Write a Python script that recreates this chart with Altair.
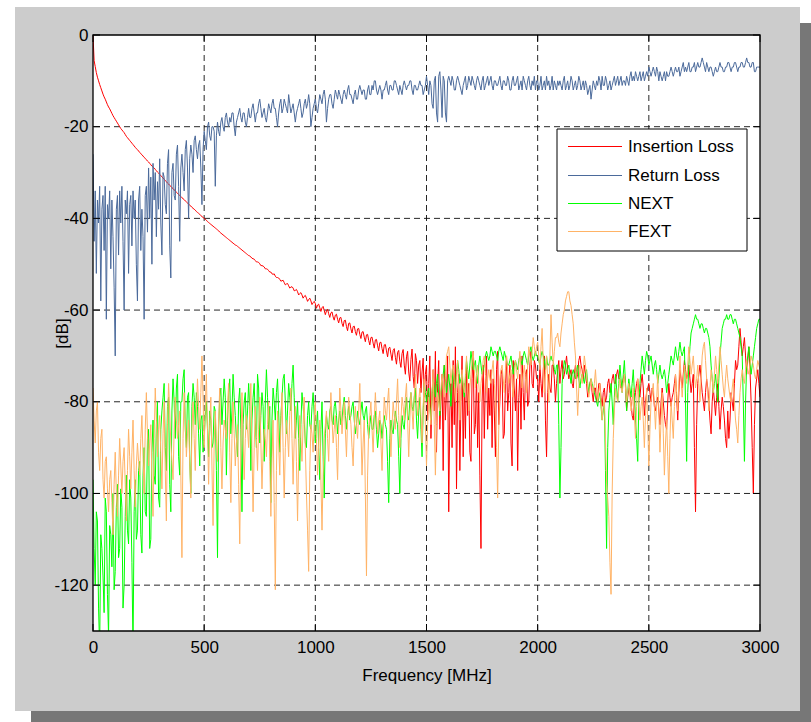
import altair as alt
import pandas as pd

# Cable channel measurement: four traces, one point every FREQ_STEP MHz from 0 to 3000
FREQ_STEP = 5

SERIES = ["Insertion Loss", "Return Loss", "NEXT", "FEXT"]
COLORS = ["#ff0000", "#4b6a9b", "#00ff00", "#ffb366"]

X_TICKS = [0, 500, 1000, 1500, 2000, 2500, 3000]
Y_TICKS = [0, -20, -40, -60, -80, -100, -120]

INSERTION_LOSS = [
    0, -5.6, -6.9, -8.2, -9.2, -10.0, -10.8, -11.5, -12.2, -12.9,
    -13.5, -14.0, -14.6, -15.2, -15.7, -16.1, -16.6, -17.1, -17.6, -18.0,
    -18.4, -18.8, -19.2, -19.6, -20.0, -20.4, -20.7, -21.0, -21.3, -21.7,
    -22.1, -22.4, -22.7, -23.0, -23.3, -23.6, -23.9, -24.2, -24.5, -24.8,
    -25.0, -25.3, -25.6, -25.9, -26.1, -26.4, -26.7, -26.9, -27.2, -27.5,
    -27.7, -28.0, -28.3, -28.6, -28.8, -29.0, -29.3, -29.6, -29.9, -30.1,
    -30.4, -30.7, -30.9, -31.2, -31.5, -31.7, -32.0, -32.3, -32.5, -32.8,
    -33.0, -33.3, -33.5, -33.8, -34.0, -34.3, -34.5, -34.8, -35.0, -35.2,
    -35.5, -35.7, -35.9, -36.2, -36.4, -36.6, -36.9, -37.1, -37.3, -37.6,
    -37.8, -38.0, -38.2, -38.5, -38.7, -38.9, -39.1, -39.4, -39.6, -39.8,
    -40.0, -40.2, -40.4, -40.7, -40.9, -41.1, -41.3, -41.5, -41.7, -41.9,
    -42.1, -42.3, -42.5, -42.7, -43.0, -43.2, -43.4, -43.6, -43.8, -44.0,
    -44.2, -44.4, -44.6, -44.8, -45.0, -45.2, -45.4, -45.6, -45.8, -45.9,
    -46.1, -46.3, -46.5, -46.7, -46.9, -47.1, -47.3, -47.5, -47.7, -47.9,
    -48.1, -48.2, -48.4, -48.7, -48.8, -48.9, -49.2, -49.5, -49.5, -49.6,
    -49.9, -50.3, -50.3, -50.4, -50.6, -51.0, -51.0, -51.1, -51.4, -51.7,
    -51.7, -52.1, -52.2, -52.1, -52.6, -52.9, -52.9, -53.0, -53.3, -53.7,
    -53.6, -53.5, -54.0, -54.5, -54.3, -54.2, -54.7, -55.2, -55.0, -54.9,
    -55.2, -55.8, -55.7, -55.5, -56.0, -56.7, -56.4, -56.2, -56.7, -57.4,
    -57.0, -56.8, -57.4, -58.1, -57.7, -57.4, -58.0, -58.8, -58.4, -58.1,
    -58.6, -59.6, -58.9, -58.7, -59.5, -60.3, -59.5, -59.2, -60.1, -61.0,
    -60.2, -59.8, -60.8, -61.6, -60.6, -60.4, -61.5, -62.2, -61.1, -60.9,
    -62.0, -62.8, -61.7, -61.6, -62.9, -63.6, -62.3, -62.2, -63.6, -64.5,
    -62.9, -62.8, -64.1, -65.0, -63.6, -63.5, -64.7, -65.5, -64.1, -64.0,
    -65.3, -66.2, -64.8, -64.7, -65.9, -66.9, -65.4, -65.3, -66.6, -67.6,
    -66.0, -65.9, -67.2, -68.3, -66.5, -66.4, -67.8, -68.9, -67.1, -67.0,
    -68.4, -69.5, -67.6, -67.5, -68.9, -70.2, -68.3, -68.1, -69.6, -71.0,
    -68.8, -68.4, -70.3, -71.8, -69.2, -68.8, -71.2, -72.5, -69.5, -68.6,
    -72.0, -74.0, -70.2, -69.0, -73.5, -75.5, -70.8, -68.5, -74.5, -77.0,
    -69.5, -71.0, -76.0, -72.0, -71.0, -78.0, -73.5, -70.5, -79.0, -74.0,
    -72, -84, -76, -70, -88, -79, -73, -82, -69, -91,
    -76, -71, -86, -80, -74, -95, -72, -84, -78, -70,
    -104, -82, -76, -90, -71, -85, -68, -99, -78, -74,
    -95, -80, -70, -92, -76, -88, -72, -83, -76, -91,
    -93, -75, -69, -87, -85, -74, -90, -78, -96, -112,
    -80, -72, -88, -75, -70, -86, -77, -83, -73, -90,
    -75, -82, -92, -73, -69, -85, -80, -74, -73, -88,
    -87, -76, -70, -82, -78, -72, -89, -94, -71, -77,
    -82, -75, -95, -79, -74, -86, -70, -78, -84, -74,
    -73, -81, -80, -72, -69, -76, -77, -71, -72, -75,
    -75, -80, -72, -76, -79, -73, -70, -84, -92, -78,
    -74, -77, -78, -72, -72, -75, -80, -76, -73, -71,
    -76, -73, -71, -75, -74, -72, -70, -73, -75, -74,
    -73, -76, -77, -74, -72, -75, -74, -71, -70, -72,
    -73, -75, -72, -74, -76, -79, -78, -76, -75, -78,
    -80, -77, -77, -80, -79, -76, -76, -79, -81, -78,
    -77, -80, -79, -76, -75, -78, -77, -75, -74, -76,
    -76, -74, -73, -75, -75, -77, -76, -75, -74, -76,
    -82, -79, -77, -78, -80, -83, -84, -80, -78, -76,
    -75, -78, -79, -76, -74, -77, -83, -80, -78, -77,
    -76, -78, -80, -77, -78, -81, -82, -80, -79, -82,
    -85, -80, -77, -80, -83, -85, -86, -80, -76, -79,
    -81, -79, -78, -76, -74, -79, -84, -78, -73, -75,
    -77, -74, -71, -73, -75, -74, -72, -75, -78, -76,
    -74, -90, -104, -85, -76, -74, -72, -75, -78, -80,
    -82, -78, -75, -77, -80, -84, -87, -80, -77, -80,
    -83, -79, -76, -81, -86, -82, -79, -81, -84, -88,
    -90, -82, -88, -84, -78, -80, -82, -76, -71, -73,
    -72, -68, -64, -67, -70, -68, -66, -70, -74, -71,
    -68, -73, -80, -90, -100, -85, -77, -75, -73, -76,
    -79,
]

RETURN_LOSS = [
    -26, -45, -34, -52, -36, -41, -33, -58, -38, -35,
    -47, -33, -62, -37, -40, -34, -51, -36, -44, -55,
    -70, -38, -35, -48, -34, -41, -33, -45, -60, -36,
    -39, -34, -52, -37, -35, -46, -34, -40, -36, -50,
    -58, -36, -33, -47, -38, -44, -62, -35, -33, -43,
    -29, -40, -31, -50, -28, -36, -30, -44, -32, -38,
    -27, -41, -48, -30, -31, -37, -39, -28, -25, -46,
    -53, -30, -28, -35, -36, -26, -24, -33, -45, -29,
    -26, -30, -34, -25, -23, -29, -40, -27, -24, -26,
    -30, -23, -22, -25, -27, -24, -23, -29, -37, -25,
    -21, -23, -25, -20, -19, -22, -23, -20, -20, -21,
    -33, -22, -19, -21, -22, -19, -18, -20, -21, -18,
    -17, -19, -20, -18, -19, -17, -17, -20, -22, -19,
    -18, -17, -16, -18, -19, -17, -17, -19, -20, -18,
    -16, -18, -18, -16, -15, -17, -19, -17, -17, -15,
    -14, -16, -18, -17, -16, -18, -19, -17, -15, -16,
    -17, -15, -14, -16, -16, -18, -20, -17, -15, -14,
    -17, -16, -14, -15, -16, -17, -13, -15, -17, -16,
    -15, -17, -19, -17, -16, -15, -14, -16, -18, -17,
    -15, -14, -16, -15, -13, -15, -20, -18, -16, -15,
    -14, -16, -17, -15, -13, -14, -15, -13, -12, -14,
    -19, -16, -14, -13, -13, -15, -16, -14, -12, -13,
    -14, -12, -13, -14, -15, -13, -12, -13, -14, -12,
    -11, -13, -13, -14, -15, -13, -12, -14, -14, -12,
    -11, -12, -13, -12, -12, -14, -14, -12, -11, -13,
    -13, -11, -12, -10, -10, -12, -13, -12, -11, -12,
    -14, -12, -12, -11, -10, -12, -13, -11, -11, -12,
    -12, -10, -10, -11, -12, -13, -11, -12, -13, -11,
    -10, -11, -12, -11, -11, -10, -10, -12, -13, -11,
    -11, -12, -12, -11, -10, -11, -11, -13, -12, -11,
    -9, -11, -13, -10, -11, -15, -16, -10, -9, -17,
    -19, -9, -8, -12, -18, -9, -10, -17, -19, -10,
    -9, -10, -11, -9, -10, -12, -12, -10, -9, -10,
    -11, -12, -13, -11, -10, -9, -12, -11, -9, -10,
    -11, -9, -10, -11, -12, -10, -9, -10, -11, -12,
    -10, -9, -12, -11, -10, -9, -11, -10, -9, -11,
    -12, -10, -10, -11, -11, -10, -9, -11, -12, -10,
    -10, -11, -11, -9, -10, -12, -12, -10, -9, -11,
    -11, -10, -9, -12, -11, -10, -12, -9, -10, -11,
    -12, -10, -9, -11, -12, -10, -11, -9, -12, -10,
    -10, -12, -11, -9, -12, -11, -10, -12, -9, -11,
    -10, -12, -11, -9, -12, -10, -11, -12, -10, -11,
    -10, -11, -12, -10, -9, -12, -11, -10, -12, -11,
    -9, -10, -12, -11, -10, -12, -11, -9, -10, -12,
    -11, -10, -12, -10, -11, -13, -12, -11, -14, -12,
    -10, -11, -12, -10, -11, -9, -10, -12, -9, -11,
    -11, -9, -10, -12, -11, -10, -12, -11, -10, -9,
    -11, -10, -9, -11, -10, -9, -11, -10, -10, -11,
    -9, -10, -11, -9, -8, -10, -9, -10, -8, -9,
    -10, -9, -8, -10, -9, -8, -10, -9, -8, -9,
    -7, -8, -9, -8, -7, -8, -9, -7, -8, -10,
    -8, -9, -10, -9, -8, -10, -8, -9, -9, -8,
    -7, -8, -9, -8, -7, -8, -8, -7, -9, -8,
    -7, -6, -8, -7, -8, -7, -6, -8, -8, -7,
    -7, -6, -8, -7, -6, -7, -7, -6, -5, -6,
    -7, -8, -6, -7, -8, -7, -7, -8, -9, -8,
    -7, -8, -8, -7, -6, -7, -7, -8, -8, -7,
    -7, -6, -6, -7, -8, -7, -7, -6, -6, -7,
    -8, -7, -7, -6, -6, -7, -7, -6, -5, -6,
    -6, -7, -7, -6, -6, -8, -8, -7, -7, -7,
    -7,
]

NEXT = [
    -97, -112, -120, -104, -106, -125, -134, -109, -112, -118,
    -126, -101, -104, -122, -131, -107, -109, -116, -100, -121,
    -117, -103, -98, -114, -112, -99, -103, -125, -120, -105,
    -96, -108, -111, -97, -101, -115, -134, -104, -97, -110,
    -108, -95, -93, -109, -113, -96, -90, -104, -105, -88,
    -86, -112, -110, -91, -84, -96, -98, -85, -80, -101,
    -103, -86, -82, -79, -76, -90, -95, -81, -79, -98,
    -104, -82, -75, -80, -88, -77, -74, -92, -96, -80,
    -80, -75, -73, -86, -90, -79, -78, -93, -100, -81,
    -76, -79, -85, -78, -81, -87, -94, -84, -83, -91,
    -88, -83, -80, -86, -92, -82, -84, -90, -89, -81,
    -82, -95, -114, -86, -79, -77, -85, -80, -75, -79,
    -96, -84, -78, -75, -87, -82, -74, -79, -83, -88,
    -92, -80, -77, -86, -104, -85, -80, -78, -86, -82,
    -76, -81, -95, -84, -79, -76, -84, -90, -74, -77,
    -89, -83, -78, -81, -93, -80, -73, -79, -86, -81,
    -102, -84, -77, -80, -84, -78, -75, -82, -91, -83,
    -79, -75, -74, -80, -87, -82, -76, -79, -82, -76,
    -72, -79, -88, -84, -80, -88, -95, -85, -78, -81,
    -84, -89, -90, -83, -80, -85, -86, -81, -78, -83,
    -89, -85, -82, -90, -97, -86, -80, -92, -101, -87,
    -83, -85, -86, -82, -81, -84, -85, -81, -80, -83,
    -87, -84, -82, -85, -84, -81, -79, -83, -86, -83,
    -81, -84, -83, -81, -80, -84, -87, -85, -82, -84,
    -85, -82, -80, -83, -84, -82, -81, -85, -88, -85,
    -83, -86, -86, -83, -82, -86, -90, -87, -84, -85,
    -88, -85, -83, -85, -86, -93, -102, -88, -84, -86,
    -87, -84, -82, -84, -85, -92, -100, -88, -83, -85,
    -86, -82, -79, -83, -84, -80, -78, -81, -82, -79,
    -77, -84, -88, -82, -79, -86, -92, -82, -76, -78,
    -80, -78, -77, -81, -84, -78, -75, -77, -79, -76,
    -74, -79, -83, -78, -76, -74, -72, -75, -78, -76,
    -74, -77, -81, -76, -73, -75, -77, -74, -71, -73,
    -76, -75, -74, -77, -79, -75, -71, -73, -75, -72,
    -69, -71, -73, -72, -71, -74, -76, -72, -70, -72,
    -74, -73, -72, -70, -69, -70, -71, -70, -68, -69,
    -70, -69, -69, -70, -71, -69, -68, -69, -70, -71,
    -69, -70, -71, -72, -72, -71, -70, -72, -74, -72,
    -71, -72, -73, -71, -70, -71, -72, -70, -69, -70,
    -71, -72, -70, -69, -68, -70, -71, -70, -69, -70,
    -70, -71, -72, -70, -69, -70, -71, -73, -70, -72,
    -72, -71, -70, -71, -71, -73, -74, -72, -72, -85,
    -101, -90, -76, -73, -71, -72, -74, -73, -72, -74,
    -76, -74, -73, -74, -75, -73, -72, -75, -77, -75,
    -74, -75, -76, -74, -73, -76, -78, -76, -75, -76,
    -77, -78, -79, -80, -81, -79, -78, -81, -84, -82,
    -80, -95, -112, -90, -82, -79, -76, -80, -85, -79,
    -74, -77, -80, -76, -72, -75, -78, -74, -71, -76,
    -82, -78, -75, -77, -79, -76, -73, -78, -84, -88,
    -93, -80, -76, -73, -70, -72, -74, -71, -69, -70,
    -72, -71, -70, -72, -74, -72, -71, -73, -76, -74,
    -72, -74, -75, -74, -73, -75, -78, -76, -74, -72,
    -70, -71, -72, -70, -68, -70, -71, -69, -67, -69,
    -70, -69, -68, -80, -93, -78, -72, -68, -65, -64,
    -63, -62, -61, -62, -62, -63, -64, -63, -63, -64,
    -65, -64, -64, -65, -66, -68, -72, -75, -78, -76,
    -74, -77, -80, -75, -70, -67, -64, -63, -62, -62,
    -61, -62, -62, -61, -61, -62, -63, -62, -62, -63,
    -64, -65, -66, -68, -70, -80, -93, -80, -72, -70,
    -68, -71, -74, -72, -70, -68, -66, -64, -63, -62,
    -62,
]

FEXT = [
    -77, -84, -89, -82, -80, -91, -95, -88, -86, -97,
    -101, -93, -92, -99, -104, -97, -95, -102, -109, -98,
    -91, -100, -105, -96, -88, -94, -100, -93, -90, -98,
    -106, -95, -86, -92, -99, -91, -84, -95, -103, -94,
    -89, -93, -96, -88, -83, -92, -100, -86, -78, -87,
    -94, -89, -85, -97, -105, -88, -77, -84, -92, -86,
    -83, -91, -99, -87, -80, -95, -106, -85, -76, -82,
    -89, -93, -97, -86, -79, -84, -88, -85, -82, -96,
    -114, -88, -78, -84, -92, -87, -84, -93, -101, -86,
    -80, -88, -95, -82, -75, -81, -86, -78, -70, -79,
    -90, -81, -74, -86, -98, -85, -79, -94, -107, -89,
    -82, -88, -93, -84, -77, -90, -99, -89, -84, -86,
    -88, -81, -76, -91, -102, -88, -80, -87, -94, -89,
    -85, -98, -111, -90, -78, -88, -97, -88, -83, -86,
    -90, -82, -76, -90, -104, -90, -81, -88, -95, -86,
    -79, -89, -99, -91, -86, -88, -92, -85, -80, -93,
    -105, -92, -84, -102, -121, -95, -82, -89, -96, -85,
    -78, -90, -101, -90, -84, -87, -92, -83, -77, -88,
    -98, -88, -81, -93, -106, -92, -83, -88, -93, -85,
    -79, -90, -100, -108, -117, -95, -85, -87, -91, -84,
    -80, -88, -96, -89, -84, -97, -108, -96, -88, -85,
    -82, -88, -93, -84, -78, -84, -89, -86, -83, -90,
    -97, -86, -77, -82, -87, -83, -80, -86, -92, -84,
    -79, -82, -85, -90, -94, -86, -81, -85, -88, -82,
    -76, -86, -96, -89, -84, -100, -118, -96, -86, -83,
    -80, -86, -91, -84, -78, -83, -87, -84, -82, -89,
    -95, -86, -79, -82, -84, -80, -77, -85, -92, -85,
    -80, -83, -86, -80, -75, -83, -90, -84, -79, -81,
    -84, -79, -76, -84, -92, -84, -78, -82, -86, -79,
    -74, -79, -83, -80, -77, -83, -89, -81, -75, -85,
    -94, -85, -79, -82, -85, -78, -73, -85, -96, -85,
    -78, -80, -82, -77, -74, -77, -79, -74, -70, -69,
    -68, -72, -76, -73, -72, -76, -80, -75, -71, -78,
    -84, -77, -73, -76, -78, -74, -70, -76, -82, -77,
    -74, -71, -69, -73, -77, -74, -72, -76, -80, -76,
    -74, -71, -70, -74, -78, -75, -73, -75, -76, -73,
    -71, -76, -80, -90, -101, -86, -75, -73, -72, -75,
    -78, -73, -70, -73, -76, -74, -73, -76, -79, -75,
    -71, -73, -75, -72, -69, -73, -77, -74, -72, -75,
    -78, -72, -68, -70, -72, -69, -66, -68, -70, -68,
    -67, -70, -73, -68, -64, -71, -78, -74, -70, -75,
    -80, -70, -61, -67, -72, -69, -66, -66, -65, -67,
    -68, -65, -63, -61, -60, -58, -57, -56, -56, -58,
    -59, -61, -63, -67, -70, -77, -83, -77, -72, -74,
    -76, -73, -70, -72, -74, -77, -79, -77, -75, -77,
    -78, -76, -73, -77, -80, -78, -76, -80, -84, -81,
    -79, -88, -98, -101, -105, -115, -122, -100, -88, -82,
    -77, -79, -80, -77, -75, -77, -78, -76, -74, -77,
    -80, -78, -76, -79, -82, -80, -77, -83, -88, -81,
    -75, -80, -84, -81, -79, -84, -90, -83, -77, -85,
    -94, -86, -80, -78, -76, -81, -86, -80, -74, -82,
    -91, -84, -78, -87, -96, -89, -84, -92, -100, -88,
    -80, -84, -88, -81, -74, -78, -82, -76, -70, -75,
    -79, -75, -72, -74, -76, -72, -68, -71, -74, -72,
    -70, -74, -77, -75, -72, -76, -80, -75, -70, -68,
    -67, -71, -75, -78, -82, -77, -73, -75, -78, -74,
    -70, -73, -76, -72, -68, -71, -74, -77, -79, -75,
    -72, -75, -77, -79, -80, -77, -75, -80, -84, -86,
    -89, -83, -78, -75, -73, -75, -76, -73, -71, -73,
    -74, -72, -70, -71, -72, -74, -75, -73, -71, -72,
    -73,
]

VALUES = [INSERTION_LOSS, RETURN_LOSS, NEXT, FEXT]

FONT = "Liberation Sans"
W, H = 667, 596  # plot area in pixels

x_scale = alt.Scale(domain=[0, 3000], nice=False, zero=False)
y_scale = alt.Scale(domain=[-130, 0], nice=False, zero=False)

common_axis = dict(
    grid=False, domain=False, ticks=False, labelFont=FONT, labelFontSize=17,
    labelColor="black", labelFlush=False, labelOverlap=False,
    labelExpr="'' + datum.value", titleFont=FONT, titleFontSize=17,
    titleFontWeight="normal", titleColor="black", zindex=1,
)
x_axis = alt.Axis(values=X_TICKS, title="Frequency [MHz]", labelPadding=8,
                  titleY=44, titleBaseline="middle", **common_axis)
y_axis = alt.Axis(values=Y_TICKS, title="[dB]", labelPadding=5,
                  titleX=-31, titleY=H / 2, titleBaseline="middle", **common_axis)


def X(field="freq"):
    return alt.X(f"{field}:Q", scale=x_scale, axis=x_axis)


def Y(field="db"):
    return alt.Y(f"{field}:Q", scale=y_scale, axis=y_axis)


one = pd.DataFrame({"k": [0]})


def box(x0, x1, y0, y1, **style):
    return alt.Chart(one).mark_rect(**style).encode(
        x=alt.value(x0), x2=alt.value(x1), y=alt.value(y0), y2=alt.value(y1)
    )


# figure panel with drop shadow, and the white axes area
shadow = box(-62, 718, -12, 687, fill="#777777")
panel = box(-78, 707, -28, 676, fill="#cccccc")
plot_bg = box(0, W, 0, H, fill="white")

xt = pd.DataFrame({"freq": X_TICKS})
yt = pd.DataFrame({"db": Y_TICKS})
grid_style = dict(color="black", strokeWidth=1, strokeDash=[6, 4], opacity=0.85)
grid_v = alt.Chart(xt[(xt.freq > 0) & (xt.freq < 3000)]).mark_rule(**grid_style).encode(x=X())
grid_h = alt.Chart(yt[yt.db < 0]).mark_rule(**grid_style).encode(y=Y())

traces = []
for name, color, vals in zip(SERIES, COLORS, VALUES):
    df = pd.DataFrame({"freq": [i * FREQ_STEP for i in range(len(vals))], "db": vals})
    traces.append(
        alt.Chart(df).mark_line(color=color, strokeWidth=1, clip=True).encode(x=X(), y=Y())
    )

border = box(0, W, 0, H, fillOpacity=0, stroke="black", strokeWidth=1.3)

TICK = 7
tick_rule = dict(color="black", strokeWidth=1)
ticks = [
    alt.Chart(xt).mark_rule(**tick_rule).encode(x=X(), y=alt.value(H - TICK), y2=alt.value(H)),
    alt.Chart(xt).mark_rule(**tick_rule).encode(x=X(), y=alt.value(0), y2=alt.value(TICK)),
    alt.Chart(yt).mark_rule(**tick_rule).encode(y=Y(), x=alt.value(0), x2=alt.value(TICK)),
    alt.Chart(yt).mark_rule(**tick_rule).encode(y=Y(), x=alt.value(W - TICK), x2=alt.value(W)),
]

# legend box in the upper right of the axes
LEG_X0, LEG_X1, LEG_Y0, LEG_Y1 = 464, 654, 94, 216
LEG_ROWS = [111.5, 140.5, 168.5, 196.5]
legend = [box(LEG_X0, LEG_X1, LEG_Y0, LEG_Y1, fill="white", stroke="black", strokeWidth=1)]
for name, color, ypos in zip(SERIES, COLORS, LEG_ROWS):
    row = pd.DataFrame({"name": [name]})
    legend.append(
        alt.Chart(row).mark_rule(color=color, strokeWidth=1).encode(
            x=alt.value(LEG_X0 + 11), x2=alt.value(LEG_X0 + 65), y=alt.value(ypos)
        )
    )
    legend.append(
        alt.Chart(row).mark_text(align="left", baseline="middle", font=FONT,
                                 fontSize=17, color="black").encode(
            x=alt.value(LEG_X0 + 71), y=alt.value(ypos), text="name:N"
        )
    )

chart = alt.layer(
    shadow, panel, plot_bg, grid_v, grid_h, *traces, border, *ticks, *legend
).properties(
    width=W,
    height=H,
    autosize=alt.AutoSizeParams(type="none"),
    padding={"left": 93, "top": 35, "right": 51, "bottom": 91},
    background="white",
).configure_view(strokeWidth=0)

chart.save("out.html", embed_options={"renderer": "svg", "actions": False})
